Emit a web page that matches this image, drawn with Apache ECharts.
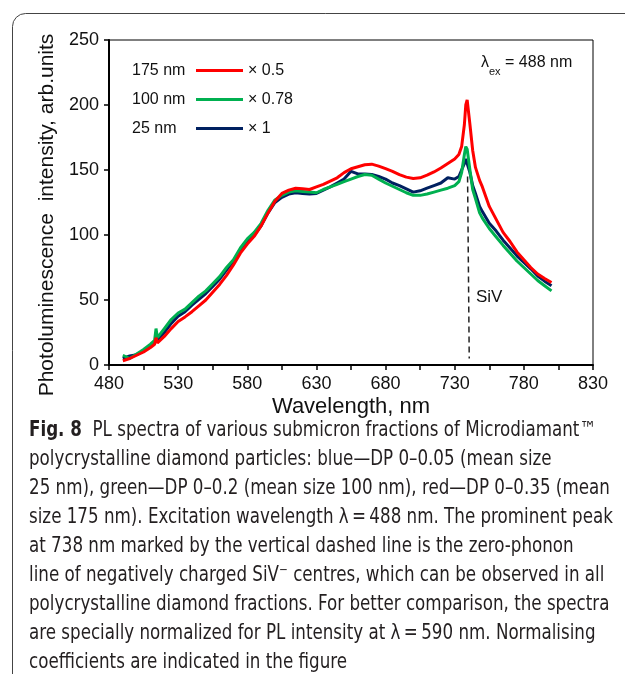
<!DOCTYPE html>
<html>
<head>
<meta charset="utf-8">
<script src="https://cdn.jsdelivr.net/npm/echarts@6/dist/echarts.min.js"></script>
<style>
html,body{margin:0;padding:0;background:#fff;}
#chart{width:625px;height:674px;}
</style>
</head>
<body>
<div id="chart"></div>
<script>
// Wavelength, nm
var wavelengths = [490,495,500,505,510,513,514,515,520,525,
  530,535,540,545,550,555,560,565,570,575,
  580,585,590,595,600,605,610,615,620,625,
  630,635,640,645,650,655,660,665,670,675,
  680,685,690,695,700,705,710,715,720,725,
  730,733,735,737,738,739,741,743,745,748,
  750,755,760,765,770,775,780,785,790,795,800];
// 175 nm (x 0.5)
var red175 = [3.3,5,7.5,10,13.5,16,21,17,22,28,
  33.5,37,41,45.5,50,56,62,69,77,86,
  93,99,107,117,126,132,134.5,136,135.5,135,
  137,139,141.5,144,148,151,152.5,154,154.5,153,
  151,149,146.5,144.5,143.5,144,146,148.5,151.5,155,
  158.5,162,168,185,200,204,185,165,152,142,
  137,122,112,102,95,87,81,75,70,66.5,63.5];
// 100 nm (x 0.78)
var green100 = [7.5,5,8.5,12,16,19,28,21,28,35,
  40,43,48,53,57,62.5,68,75,81,90,
  97,102,109,119,127,130.5,133,134,133.5,133,
  132.5,135,137,139,141,143,145,146.5,146,143,
  140,137.5,135,132.5,130.5,130.5,131.5,133,134.5,136,
  138,141,148,162,168,166,150,135,128,117,
  113,105,98.5,92,86,80,75,70,65,61,57];
// 25 nm (x 1)
var blue25 = [5,7,8,11,15,17.5,19,19,25,32,
  37.5,41,46,50.5,55,60.5,66,73,80,88,
  95,100,107,117,125,129,131.5,132.5,132,131.5,
  132,134.5,137,140,143,149,147,147,146.5,145,
  143,140,138,135.5,133,134,136,138,140,144,
  143,145,150,155,158.5,158,148,138,132,122,
  118,109,103,96,90,84,79,74,68.5,64.5,61];
var sivLine = [[739.3,145],[740.5,5]];
var xTickLabels = [480,530,580,630,680,730,780,830];
var seriesNames = ['175 nm','100 nm','25 nm'];
var coefLabels = ['\u00d7 0.5','\u00d7 0.78','\u00d7 1'];
var colors = ['#ff0000','#00b050','#002060'];

function pairs(ys){ return wavelengths.map(function(w,i){ return [w, ys[i]]; }); }

var font = "'Liberation Sans', Arial, sans-serif";
var capFont = "'DejaVu Sans Condensed', 'Liberation Sans Narrow', sans-serif";

var legendTops = [62.5, 91.5, 120.5];
var legends = seriesNames.map(function(n, i){
  return {
    data: [n], left: 196, top: legendTops[i], padding: 0,
    icon: 'rect', itemWidth: 47, itemHeight: 3, itemGap: 0,
    selectedMode: false,
    formatter: function(){ return coefLabels[i]; },
    textStyle: {fontFamily: font, fontSize: 16, color: '#111'}
  };
});

var captionText =
  '{b|Fig. 8}  PL spectra of various submicron fractions of Microdiamant\u2122\n' +
  'polycrystalline diamond particles: blue\u2014DP 0\u20130.05 (mean size\n' +
  '25 nm), green\u2014DP 0\u20130.2 (mean size 100 nm), red\u2014DP 0\u20130.35 (mean\n' +
  'size 175 nm). Excitation wavelength \u03bb\u2009=\u2009488 nm. The prominent peak\n' +
  'at 738 nm marked by the vertical dashed line is the zero-phonon\n' +
  'line of negatively charged SiV\u207b centres, which can be observed in all\n' +
  'polycrystalline diamond fractions. For better comparison, the spectra\n' +
  'are specially normalized for PL intensity at \u03bb\u2009=\u2009590 nm. Normalising\n' +
  'coefficients are indicated in the figure';

var chart = echarts.init(document.getElementById('chart'), null, {renderer: 'canvas'});
chart.setOption({
  animation: false,
  backgroundColor: '#fff',
  grid: {left: 109, right: 32, top: 40, bottom: 309, show: true, borderColor: '#000', borderWidth: 1, containLabel: false},
  legend: legends,
  xAxis: {
    type: 'value', min: 480, max: 830, interval: 25,
    name: 'Wavelength, nm', nameLocation: 'middle', nameGap: 31,
    nameTextStyle: {fontFamily: font, fontSize: 22, color: '#111'},
    axisLine: {lineStyle: {color: '#000', width: 2}},
    axisTick: {length: 5, lineStyle: {color: '#000', width: 1.5}},
    axisLabel: {margin: 10, fontFamily: font, fontSize: 18, color: '#111',
      formatter: function(v){ return xTickLabels.indexOf(v) >= 0 ? String(v) : ''; }},
    splitLine: {show: false}
  },
  yAxis: {
    type: 'value', min: 0, max: 250, interval: 50,
    axisLine: {show: true, lineStyle: {color: '#000', width: 2}},
    axisTick: {show: true, length: 5, lineStyle: {color: '#000', width: 1.5}},
    axisLabel: {margin: 10, fontFamily: font, fontSize: 18, color: '#111'},
    splitLine: {show: false}
  },
  graphic: [
    {type: 'rect', shape: {x: 12.5, y: 13.5, width: 800, height: 900, r: 13}, style: {fill: 'none', stroke: '#444', lineWidth: 1}, silent: true},
    {type: 'text', x: 47, y: 215, rotation: Math.PI/2, style: {text: 'Photoluminescence  intensity, arb.units', fontFamily: font, fontSize: 21, fill: '#111', align: 'center', verticalAlign: 'middle'}},
    {type: 'text', x: 132, y: 70.7, style: {text: seriesNames[0], fontFamily: font, fontSize: 16, fill: '#111', verticalAlign: 'middle'}},
    {type: 'text', x: 132, y: 99.7, style: {text: seriesNames[1], fontFamily: font, fontSize: 16, fill: '#111', verticalAlign: 'middle'}},
    {type: 'text', x: 132, y: 128.7, style: {text: seriesNames[2], fontFamily: font, fontSize: 16, fill: '#111', verticalAlign: 'middle'}},
    {type: 'text', x: 481, y: 55, style: {text: '{l|\u03bb}{s|ex}{n| = 488 nm}', fill: '#111',
      rich: {
        l: {fontFamily: font, fontSize: 16, lineHeight: 18, verticalAlign: 'top'},
        s: {fontFamily: font, fontSize: 11, lineHeight: 11, padding: [11,0,0,0], verticalAlign: 'top'},
        n: {fontFamily: font, fontSize: 16, lineHeight: 18, verticalAlign: 'top'}
      }}},
    {type: 'text', x: 476, y: 297, style: {text: 'SiV', fontFamily: font, fontSize: 17, fill: '#111', verticalAlign: 'middle'}},
    {type: 'text', x: 29, y: 416, scaleX: 0.885, style: {text: captionText, fontFamily: capFont, fontSize: 21, lineHeight: 29, fill: '#231f20',
      rich: {b: {fontFamily: capFont, fontSize: 21, fontWeight: 'bold', lineHeight: 29}}}}
  ],
  series: [
    {type: 'line', name: 'SiV', data: sivLine, symbol: 'none', silent: true,
      lineStyle: {color: '#222', width: 1.5, type: [6,4]}, itemStyle: {color: '#222'}},
    {type: 'line', name: seriesNames[2], data: pairs(blue25), symbol: 'none',
      lineStyle: {color: colors[2], width: 3}, itemStyle: {color: colors[2]}},
    {type: 'line', name: seriesNames[1], data: pairs(green100), symbol: 'none',
      lineStyle: {color: colors[1], width: 3}, itemStyle: {color: colors[1]}},
    {type: 'line', name: seriesNames[0], data: pairs(red175), symbol: 'none',
      lineStyle: {color: colors[0], width: 3}, itemStyle: {color: colors[0]}}
  ]
});
</script>
</body>
</html>
